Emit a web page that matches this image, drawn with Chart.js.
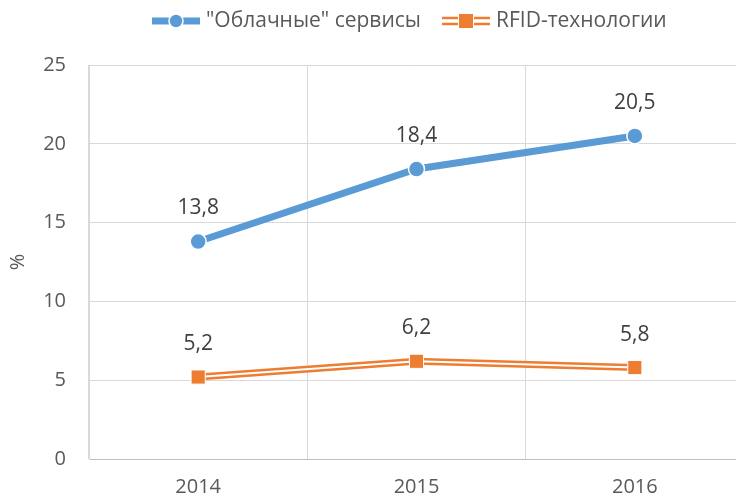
<!DOCTYPE html>
<html>
<head>
<meta charset="utf-8">
<script src="https://cdn.jsdelivr.net/npm/chart.js@4/dist/chart.umd.min.js"></script>
<style>
  html, body { margin: 0; padding: 0; background: #fff; }
  #myChart { display: block; }
</style>
</head>
<body>
<canvas id="myChart" width="736" height="499"></canvas>
<script>
var years = ['2014', '2015', '2016']
var cloud = [13.8, 18.4, 20.5]
var rfid = [5.2, 6.2, 5.8]
var cloudLabel = '"Облачные" сервисы'
var rfidLabel = 'RFID-технологии'

var FONT = "'Open Sans', sans-serif"
var blue = '#5B9BD5'
var orange = '#ED7D31'

// the plot area runs a bit past the right edge of the picture
var widenArea = {
  id: 'widenArea',
  afterLayout: function(chart) {
    var a = chart.chartArea
    a.right = 744
    a.width = a.right - a.left
    var x = chart.scales.x
    x.right = 744
    x.width = x.right - x.left
    x.configure()
  }
}

// value labels above points
var valueLabels = {
  id: 'valueLabels',
  afterDatasetsDraw: function(chart) {
    var ctx = chart.ctx
    ctx.save()
    ctx.font = '21px ' + FONT
    ctx.fillStyle = '#404040'
    ctx.textAlign = 'center'
    ctx.textBaseline = 'middle'
    chart.data.datasets.forEach(function(ds, i) {
      if (!ds.showValues) return
      chart.getDatasetMeta(i).data.forEach(function(pt, j) {
        ctx.fillText(String(ds.data[j]).replace('.', ','), pt.x, pt.y - 33)
      })
    })
    ctx.restore()
  }
}

// legend drawn by hand (line + marker symbols)
var topLegend = {
  id: 'topLegend',
  afterDraw: function(chart) {
    var ctx = chart.ctx
    var y = 21
    ctx.save()
    ctx.font = '21px ' + FONT
    ctx.textBaseline = 'middle'
    ctx.textAlign = 'left'

    // blue
    ctx.strokeStyle = blue
    ctx.lineWidth = 7
    ctx.beginPath(); ctx.moveTo(152, y); ctx.lineTo(200, y); ctx.stroke()
    ctx.beginPath(); ctx.arc(176, y, 7, 0, Math.PI * 2)
    ctx.fillStyle = blue; ctx.fill()
    ctx.strokeStyle = '#fff'; ctx.lineWidth = 1.5; ctx.stroke()
    ctx.fillStyle = '#595959'
    ctx.fillText(cloudLabel, 206, y)

    // orange
    ctx.strokeStyle = orange
    ctx.lineWidth = 2.5
    ;[-3, 3].forEach(function(d) {
      ctx.beginPath(); ctx.moveTo(442, y + d); ctx.lineTo(490, y + d); ctx.stroke()
    })
    ctx.fillStyle = '#fff'
    ctx.fillRect(458, y - 8, 16, 16)
    ctx.fillStyle = orange
    ctx.fillRect(459, y - 7, 14, 14)
    ctx.fillStyle = '#595959'
    ctx.fillText(rfidLabel, 496, y)
    ctx.restore()
  }
}

var chart = new Chart(document.getElementById('myChart'), {
  type: 'line',
  data: {
    labels: years,
    datasets: [
      {
        label: cloudLabel,
        data: cloud,
        borderColor: blue,
        backgroundColor: blue,
        borderWidth: 7,
        pointRadius: 8,
        pointBorderColor: '#fff',
        pointBorderWidth: 1.5,
        pointBackgroundColor: blue,
        showValues: true,
        order: 0
      },
      {
        label: rfidLabel,
        data: rfid,
        showLine: false,
        pointStyle: 'rect',
        pointRadius: 10,
        pointBorderColor: '#fff',
        pointBorderWidth: 1,
        pointBackgroundColor: orange,
        showValues: true,
        order: 1
      },
      {
        label: 'rfid-inner',
        data: rfid,
        borderColor: '#fff',
        borderWidth: 2,
        pointRadius: 0,
        order: 2
      },
      {
        label: 'rfid-outer',
        data: rfid,
        borderColor: orange,
        borderWidth: 7,
        pointRadius: 0,
        order: 3
      }
    ]
  },
  options: {
    responsive: false,
    animation: false,
    layout: { padding: { top: 65, right: 0, left: 0, bottom: 0 } },
    plugins: {
      legend: { display: false },
      tooltip: { enabled: false }
    },
    scales: {
      x: {
        offset: true,
        grid: { offset: true, color: '#D9D9D9', drawTicks: false },
        border: { color: '#BFBFBF', width: 1 },
        ticks: { color: '#595959', font: { family: FONT, size: 20 }, padding: 16 },
        afterFit: function(s) { s.height = 40 }
      },
      y: {
        min: 0,
        max: 25,
        grid: { color: '#D9D9D9', drawTicks: false },
        border: { color: '#D9D9D9' },
        ticks: { stepSize: 5, color: '#595959', font: { family: FONT, size: 20 }, padding: 23 },
        title: { display: true, text: '%', color: '#595959', font: { family: FONT, size: 20 }, padding: { top: 6, bottom: 0 } },
        afterFit: function(s) { s.width = 89 }
      }
    }
  },
  plugins: [widenArea, valueLabels, topLegend]
})
</script>
</body>
</html>
